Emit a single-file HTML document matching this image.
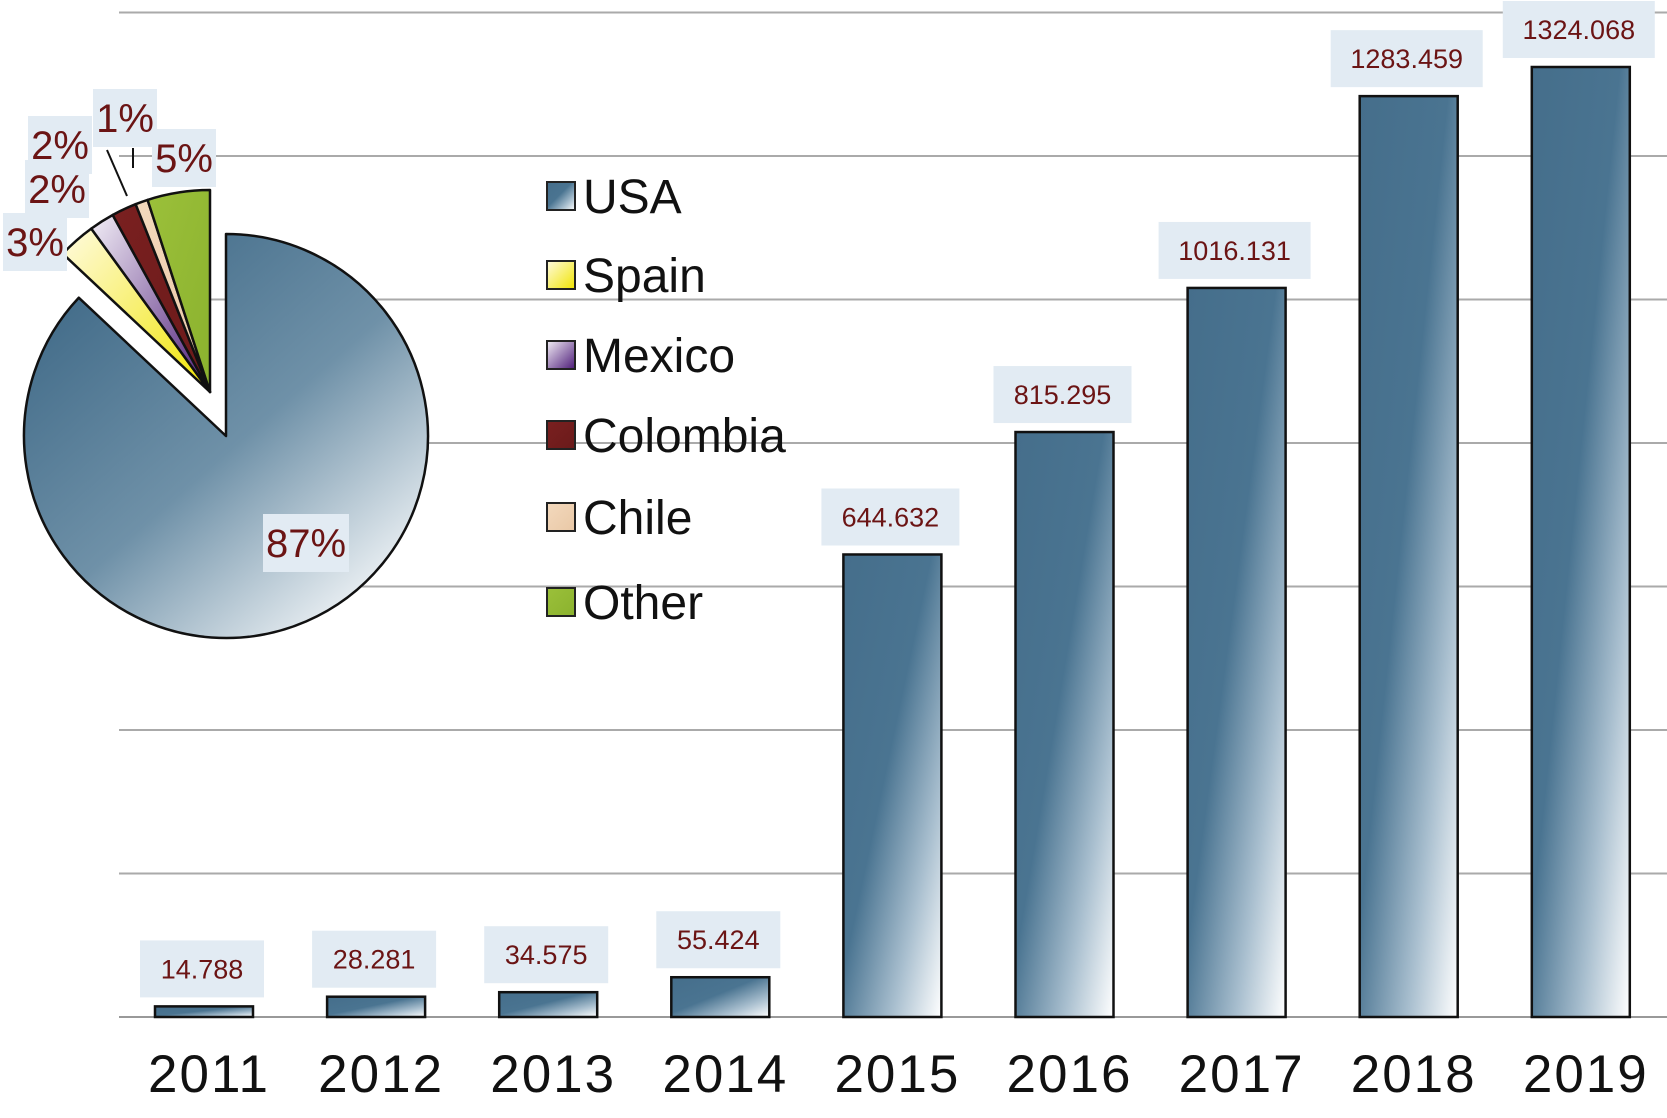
<!DOCTYPE html>
<html><head><meta charset="utf-8"><style>
html,body{margin:0;padding:0;background:#fff}
svg{display:block;font-family:"Liberation Sans",Arial,sans-serif}
</style></head><body>
<svg id="chart" width="1667" height="1118" viewBox="0 0 1667 1118">
<defs>
<linearGradient id="barg" x1="0" y1="0" x2="1" y2="1">
<stop offset="0" stop-color="#456e8b"/><stop offset="0.45" stop-color="#4a7491"/><stop offset="0.75" stop-color="#a9bfcf"/><stop offset="1" stop-color="#ffffff"/></linearGradient>
<linearGradient id="pieBlue" x1="0.2" y1="0.1" x2="0.9" y2="0.9">
<stop offset="0" stop-color="#456e8b"/><stop offset="0.5" stop-color="#6f91a8"/><stop offset="1" stop-color="#f4f7f9"/></linearGradient>
<linearGradient id="gYel" x1="0" y1="0" x2="1" y2="1"><stop offset="0" stop-color="#fffbe0"/><stop offset="1" stop-color="#f0e400"/></linearGradient>
<linearGradient id="gPur" x1="0" y1="0" x2="1" y2="1"><stop offset="0" stop-color="#f2eef6"/><stop offset="1" stop-color="#4c1a78"/></linearGradient>
<linearGradient id="gRed" x1="0" y1="0" x2="1" y2="1"><stop offset="0" stop-color="#7a2020"/><stop offset="1" stop-color="#6a1a1a"/></linearGradient>
<linearGradient id="gChi" x1="0" y1="0" x2="1" y2="1"><stop offset="0" stop-color="#f3d9bd"/><stop offset="1" stop-color="#e9c8a6"/></linearGradient>
<linearGradient id="gGrn" x1="0" y1="0" x2="1" y2="1"><stop offset="0" stop-color="#9bc03a"/><stop offset="1" stop-color="#8bb22e"/></linearGradient>
</defs>
<g id="grid"></g><g id="bars"></g><g id="pie"></g><g id="legend"></g>
</svg>
<script>
const years=["2011","2012","2013","2014","2015","2016","2017","2018","2019"];
const values=[14.788,28.281,34.575,55.424,644.632,815.295,1016.131,1283.459,1324.068];
const valueLabels=["14.788","28.281","34.575","55.424","644.632","815.295","1016.131","1283.459","1324.068"];
const gridTicks=[0,200,400,600,800,1000,1200,1400];
const pieCountries=["USA","Spain","Mexico","Colombia","Chile","Other"];
const pieShares=[87,3,2,2,1,5];
const pieLabels=["87%","3%","2%","2%","1%","5%"];
const pieFills=["url(#pieBlue)","url(#gYel)","url(#gPur)","url(#gRed)","url(#gChi)","url(#gGrn)"];
const NS="http://www.w3.org/2000/svg";
function mk(t,a,p){const e=document.createElementNS(NS,t);for(const k in a)e.setAttribute(k,a[k]);p.appendChild(e);return e;}
const y0=1017,pxPer=950/1324.068;
function yS(v){return y0-v*pxPer;}
function xC(i){return 204+i*172.1;}
const grid=document.getElementById('grid');
gridTicks.forEach(t=>{const l=mk('line',{x1:119,x2:1667,y1:yS(t),y2:yS(t),stroke:t===0?'#999':'#aaa','stroke-width':2},grid);

});
const bars=document.getElementById('bars');
values.forEach((v,i)=>{
 const cx=xC(i),top=yS(v);
 const r=mk('rect',{x:cx-49,y:top,width:98,height:y0-top,fill:'url(#barg)',stroke:'#111','stroke-width':2.5},bars);
 
 
 const w=valueLabels[i].length*14+40;
 const b=mk('rect',{x:cx-w/2-2,y:top-66,width:w,height:57,fill:'#e2ebf3'},bars);
 
 
 const t=mk('text',{x:cx-2,y:top-28,'text-anchor':'middle','font-size':27,fill:'#6b1414'},bars);
 t.textContent=valueLabels[i];
 
 
 const yl=mk('text',{x:cx+5,y:1092,'text-anchor':'middle','font-size':53,'letter-spacing':2,fill:'#111'},bars);
 yl.textContent=years[i];
 
 
});
const pie=document.getElementById('pie');
const pcx=226,pcy=436,pr=202;
function pt(cx,cy,r,a){const rad=a*Math.PI/180;return [cx+r*Math.sin(rad),cy-r*Math.cos(rad)];}
let acc=0;
pieShares.forEach((s,i)=>{
 const a0=acc*3.6,a1=(acc+s)*3.6;acc+=s;
 let cx=pcx,cy=pcy;
 if(i>0){cx=pcx-16;cy=pcy-44;}
 const p0=pt(cx,cy,pr,a0),p1=pt(cx,cy,pr,a1);
 const large=(a1-a0)>180?1:0;
 const p=mk('path',{d:`M${cx},${cy} L${p0[0]},${p0[1]} A${pr},${pr} 0 ${large} 1 ${p1[0]},${p1[1]} Z`,fill:pieFills[i],stroke:'#111','stroke-width':2.5,'stroke-linejoin':'round'},pie);
 
 
});
const pieLabelPos=[[306,543],[35,242],[57,189],[60,145],[125,118],[184,158]];
mk('line',{x1:107,y1:150,x2:127,y2:196,stroke:'#111','stroke-width':2},pie);
mk('line',{x1:133,y1:148,x2:133,y2:168,stroke:'#111','stroke-width':2},pie);
pieLabels.forEach((l,i)=>{
 const [x,y]=pieLabelPos[i];
 const w=l.length*22+20;
 const b=mk('rect',{x:x-w/2,y:y-29,width:w,height:58,fill:'#e2ebf3'},pie);
 
 
 const t=mk('text',{x:x,y:y+14,'text-anchor':'middle','font-size':40,fill:'#6b1414'},pie);
 t.textContent=l;
 
 
});
const leg=document.getElementById('legend');
const legY=[196,275,355,435,517,602];
const legFills=["url(#barg)","url(#gYel)","url(#gPur)","url(#gRed)","url(#gChi)","url(#gGrn)"];
pieCountries.forEach((c,i)=>{
 const g=mk('g',{},leg);
 
 
 mk('rect',{x:547,y:legY[i]-14,width:28,height:28,fill:legFills[i],stroke:'#222','stroke-width':2},g);
 const t=mk('text',{x:583,y:legY[i]+17,'font-size':48,fill:'#111'},g);
 t.textContent=c;
});
</script>
</body></html>
